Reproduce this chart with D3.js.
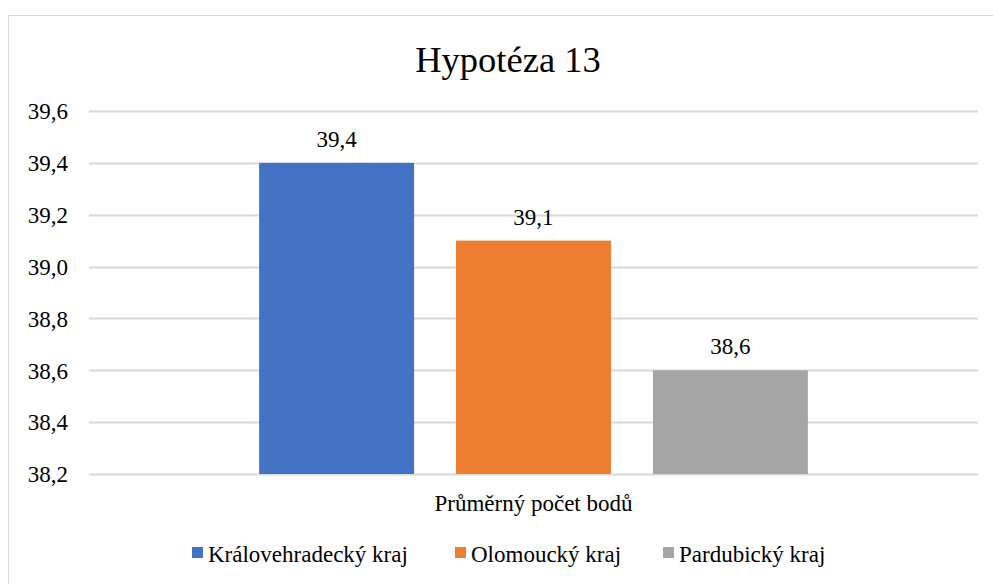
<!DOCTYPE html>
<html>
<head>
<meta charset="utf-8">
<script src="https://cdn.jsdelivr.net/npm/d3@7"></script>
<style>
  body { margin: 0; background: #fff; }
</style>
</head>
<body>
<svg id="chart" width="993" height="584" font-family="Times New Roman, Liberation Serif, serif"></svg>
<script>
const title = "Hypotéza 13";
const category = "Průměrný počet bodů";
const series = ["Královehradecký kraj", "Olomoucký kraj", "Pardubický kraj"];
const values = [39.4, 39.1, 38.6];
const colors = ["#4472C4", "#ED7D31", "#A5A5A5"];
const yTicks = [38.2, 38.4, 38.6, 38.8, 39.0, 39.2, 39.4, 39.6];

const FONT = "Times New Roman, Liberation Serif, serif";
const LABEL_SIZE = 23;
const svg = d3.select("#chart");
const fmt = v => d3.format(".1f")(v).replace(".", ",");

// chart frame
svg.append("rect")
  .attr("x", 8.5).attr("y", 15.5)
  .attr("width", 993).attr("height", 600)
  .attr("fill", "#fff").attr("stroke", "#D9D9D9").attr("stroke-width", 1);

const plot = { left: 89, right: 978, top: 111, bottom: 474 };

const y = d3.scaleLinear().domain([38.2, 39.6]).range([plot.bottom, plot.top]);
const x0 = d3.scaleBand().domain([category]).range([plot.left, plot.right]).paddingInner(0).paddingOuter(0.31);
const x1 = d3.scaleBand().domain(series).range([0, x0.bandwidth()]).paddingInner(0.213).paddingOuter(0);

svg.append("text")
  .attr("x", 508).attr("y", 72)
  .attr("text-anchor", "middle")
  .attr("font-family", FONT)
  .attr("font-size", 36.5)
  .text(title);

// gridlines
svg.append("g").selectAll("line").data(yTicks).join("line")
  .attr("x1", plot.left).attr("x2", plot.right)
  .attr("y1", d => Math.round(y(d)) + 0.5).attr("y2", d => Math.round(y(d)) + 0.5)
  .attr("stroke", "#D9D9D9").attr("stroke-width", 2);

// y axis labels
const yAxis = d3.axisLeft(y).tickValues(yTicks).tickFormat(fmt).tickSize(0).tickPadding(21);
const ya = svg.append("g").attr("transform", `translate(${plot.left},0)`).call(yAxis)
  .attr("font-family", FONT).attr("font-size", LABEL_SIZE);
ya.select(".domain").remove();
ya.selectAll("text").attr("fill", "#000").attr("dy", "0.34em");

// bars
const grp = svg.append("g").attr("transform", `translate(${x0(category)},0)`);
grp.selectAll("rect").data(values).join("rect")
  .attr("x", (d, i) => x1(series[i]))
  .attr("width", x1.bandwidth())
  .attr("y", d => y(d))
  .attr("height", d => y(38.2) - y(d))
  .attr("fill", (d, i) => colors[i]);

grp.selectAll("text.val").data(values).join("text")
  .attr("class", "val")
  .attr("x", (d, i) => x1(series[i]) + x1.bandwidth() / 2)
  .attr("y", d => y(d) - 16)
  .attr("text-anchor", "middle")
  .attr("font-family", FONT)
  .attr("font-size", LABEL_SIZE)
  .text(fmt);

// category label
svg.append("text")
  .attr("x", x0(category) + x0.bandwidth() / 2).attr("y", 511)
  .attr("text-anchor", "middle")
  .attr("font-family", FONT)
  .attr("font-size", LABEL_SIZE)
  .text(category);

// legend
const legendX = [192, 455, 663];
const lg = svg.append("g");
series.forEach((s, i) => {
  lg.append("rect").attr("x", legendX[i]).attr("y", 547).attr("width", 11).attr("height", 11).attr("fill", colors[i]);
  lg.append("text").attr("x", legendX[i] + 16).attr("y", 562)
    .attr("font-family", FONT).attr("font-size", LABEL_SIZE).text(s);
});
</script>
</body>
</html>
